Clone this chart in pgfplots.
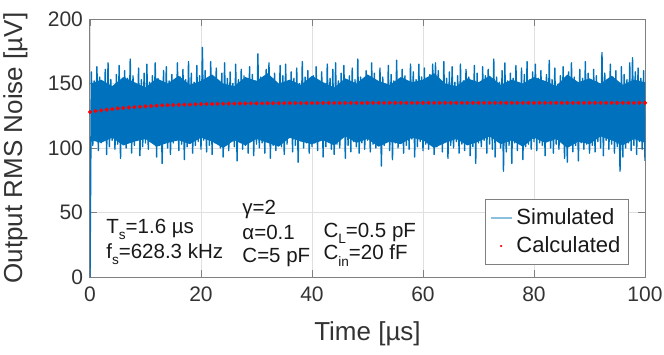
\documentclass[border=0pt]{standalone}
\usepackage{pgfplots}
\pgfplotsset{compat=1.18}
\usepackage{pgfplotstable}
\usepackage{fontspec}
\setmainfont{Liberation Sans}
\definecolor{mblue}{RGB}{0,114,189}
\newcommand{\sub}[1]{\raisebox{-0.32em}{\fontsize{6.8}{7}\selectfont #1}}

\pgfplotstableread[row sep=\\,header=false]{
0\\
159\\102\\152\\107\\163\\98\\155\\104\\150\\109\\161\\95\\166\\101\\153\\106\\148\\99\\157\\103\\164\\92\\151\\105\\160\\100\\154\\108\\169\\96\\156\\102\\149\\106\\162\\94\\153\\101\\158\\104\\
165\\99\\151\\105\\156\\108\\166\\93\\154\\102\\150\\88\\160\\106\\163\\100\\152\\95\\157\\104\\148\\109\\166\\98\\155\\103\\161\\91\\153\\101\\167\\107\\158\\96\\151\\102\\164\\105\\156\\99\\
178\\106\\160\\97\\149\\102\\167\\95\\155\\104\\162\\108\\151\\100\\158\\93\\166\\103\\154\\98\\159\\107\\150\\101\\165\\90\\153\\105\\161\\99\\156\\102\\148\\96\\163\\106\\157\\94\\152\\103\\
173\\100\\155\\104\\151\\96\\161\\107\\166\\92\\153\\102\\158\\98\\149\\105\\164\\101\\156\\95\\165\\103\\152\\108\\159\\97\\154\\102\\162\\89\\150\\106\\167\\100\\155\\104\\160\\96\\153\\101\\
156\\104\\163\\98\\151\\106\\159\\93\\148\\101\\165\\107\\154\\99\\161\\95\\166\\103\\152\\100\\158\\108\\164\\92\\150\\102\\156\\97\\162\\105\\153\\101\\169\\96\\155\\104\\151\\99\\160\\106\\
154\\97\\166\\103\\158\\100\\150\\108\\162\\86\\155\\102\\149\\105\\164\\98\\157\\91\\152\\104\\168\\100\\153\\106\\161\\96\\156\\102\\150\\99\\165\\107\\159\\93\\153\\101\\165\\105\\155\\98\\
162\\103\\151\\99\\157\\106\\165\\95\\166\\101\\160\\104\\148\\97\\167\\108\\154\\92\\159\\102\\163\\100\\151\\105\\156\\96\\165\\103\\152\\98\\161\\107\\155\\94\\149\\101\\164\\88\\158\\104\\
150\\101\\163\\106\\156\\96\\161\\103\\153\\99\\169\\93\\155\\105\\151\\100\\160\\82\\166\\97\\152\\102\\158\\88\\154\\104\\164\\98\\149\\106\\162\\91\\157\\101\\167\\103\\153\\99\\159\\105\\
165\\98\\154\\104\\160\\102\\151\\94\\157\\107\\168\\100\\153\\96\\162\\103\\149\\99\\156\\105\\163\\92\\152\\89\\159\\106\\166\\97\\155\\102\\150\\90\\161\\104\\154\\99\\167\\103\\158\\96\\
153\\102\\161\\97\\156\\105\\150\\100\\174\\94\\158\\106\\152\\99\\165\\103\\155\\96\\160\\101\\149\\82\\163\\93\\157\\100\\153\\104\\166\\98\\170\\102\\159\\95\\162\\105\\154\\99\\160\\90\\
}\noise

% dense core of the simulated trace: upper edge left to right, lower edge right to left
\pgfplotstableread[row sep=\\]{
t v\\
0.25 150\\ 2 153\\ 4 148\\ 6 155\\ 8 151\\ 10 147\\ 12 154\\ 14 150\\ 16 156\\ 18 149\\
20 152\\ 22 157\\ 24 150\\ 26 148\\ 28 155\\ 30 152\\ 32 158\\ 34 150\\ 36 153\\ 38 149\\
40 156\\ 42 151\\ 44 147\\ 46 154\\ 48 150\\ 50 157\\ 52 152\\ 54 149\\ 56 155\\ 58 151\\
60 153\\ 62 158\\ 64 150\\ 66 148\\ 68 154\\ 70 151\\ 72 156\\ 74 149\\ 76 153\\ 78 150\\
80 155\\ 82 152\\ 84 148\\ 86 157\\ 88 151\\ 90 154\\ 92 150\\ 94 156\\ 96 149\\ 98 153\\ 100 151\\
100 104\\ 98 107\\ 96 102\\ 94 106\\ 92 109\\ 90 103\\ 88 105\\ 86 100\\ 84 107\\ 82 104\\
80 108\\ 78 101\\ 76 106\\ 74 103\\ 72 109\\ 70 105\\ 68 102\\ 66 107\\ 64 104\\ 62 100\\
60 106\\ 58 108\\ 56 103\\ 54 105\\ 52 101\\ 50 107\\ 48 104\\ 46 109\\ 44 102\\ 42 106\\
40 103\\ 38 105\\ 36 108\\ 34 101\\ 32 104\\ 30 107\\ 28 102\\ 26 106\\ 24 100\\ 22 105\\
20 108\\ 18 103\\ 16 106\\ 14 104\\ 12 101\\ 10 107\\ 8 105\\ 6 102\\ 4 108\\ 2 104\\ 0.25 106\\
}\core

\pgfplotstableread[row sep=\\]{
t v\\
0 127.9\\ 1 128.6\\ 2 129.2\\ 3 129.7\\ 4 130.2\\ 5 130.7\\ 6 131.0\\ 7 131.4\\ 8 131.7\\ 9 132.0\\
10 132.3\\ 11 132.5\\ 12 132.8\\ 13 133.0\\ 14 133.2\\ 15 133.3\\ 16 133.5\\ 17 133.6\\ 18 133.7\\ 19 133.9\\
20 134.0\\ 21 134.1\\ 22 134.1\\ 23 134.2\\ 24 134.3\\ 25 134.4\\ 26 134.4\\ 27 134.5\\ 28 134.5\\ 29 134.6\\
30 134.6\\ 31 134.6\\ 32 134.7\\ 33 134.7\\ 34 134.7\\ 35 134.8\\ 36 134.8\\ 37 134.8\\ 38 134.8\\ 39 134.8\\
40 134.9\\ 41 134.9\\ 42 134.9\\ 43 134.9\\ 44 134.9\\ 45 134.9\\ 46 134.9\\ 47 134.9\\ 48 134.9\\ 49 134.9\\
50 135.0\\ 51 135.0\\ 52 135.0\\ 53 135.0\\ 54 135.0\\ 55 135.0\\ 56 135.0\\ 57 135.0\\ 58 135.0\\ 59 135.0\\
60 135.0\\ 61 135.0\\ 62 135.0\\ 63 135.0\\ 64 135.0\\ 65 135.0\\ 66 135.0\\ 67 135.0\\ 68 135.0\\ 69 135.0\\
70 135.0\\ 71 135.0\\ 72 135.0\\ 73 135.0\\ 74 135.0\\ 75 135.0\\ 76 135.0\\ 77 135.0\\ 78 135.0\\ 79 135.0\\
80 135.0\\ 81 135.0\\ 82 135.0\\ 83 135.0\\ 84 135.0\\ 85 135.0\\ 86 135.0\\ 87 135.0\\ 88 135.0\\ 89 135.0\\
90 135.0\\ 91 135.0\\ 92 135.0\\ 93 135.0\\ 94 135.0\\ 95 135.0\\ 96 135.0\\ 97 135.0\\ 98 135.0\\ 99 135.0\\
100 135.0\\
}\calc

\begin{document}
\begin{tikzpicture}
\path[use as bounding box] (-45pt,-38.5pt) rectangle (287pt,138.5pt);
\begin{axis}[
  at={(0,0)}, anchor=south west,
  scale only axis, width=277.5pt, height=129pt,
  xmin=0, xmax=100, ymin=0, ymax=200,
  xtick={0,20,...,100}, ytick={0,50,...,200},
  tick align=inside, major tick length=3.5pt,
  axis line style={black!50, line width=0.5pt},
  tick style={black!50, line width=0.4pt},
  grid=major, grid style={black!12, line width=0.4pt},
  /pgf/number format/assume math mode=true,
  ticklabel style={font=\fontsize{10.5}{12}\selectfont, text=black!80},
  xticklabel style={yshift=-1.5pt},
  xlabel={Time [µs]}, ylabel={Output RMS Noise [µV]},
  label style={font=\fontsize{13}{15}\selectfont, text=black!80},
  xlabel style={at={(axis description cs:0.5,-0.248)}, anchor=base},
  ylabel style={at={(axis description cs:-0.1225,0.5)}, anchor=base},
  legend style={at={(0.971,0.0465)}, anchor=south east, draw=black!50, fill=white,
    line width=0.5pt, font=\fontsize{11}{13}\selectfont, text=black!90,
    inner xsep=2pt, inner ysep=2.5pt, row sep=0.5pt,
    column 2/.style={nodes={text width=61pt, inner xsep=1pt}}},
  legend cell align=left,
]
\addplot[draw=none, fill=mblue, forget plot] table[x=t, y=v] {\core} -- cycle;
\addplot[mblue, line width=0.7pt, line join=round,
  legend image code/.code={\draw[mblue!45, line width=0.8pt] (0pt,0pt) -- (10.5pt,0pt);}]
  table[x expr=\coordindex*0.25, y index=0] {\noise};
\addlegendentry{Simulated}
\addplot[only marks, mark=*, mark size=0.8pt, color=red, draw=none,
  legend image code/.code={\fill[red] (5.25pt,0pt) circle (0.6pt);}]
  table[x=t, y=v] {\calc};
\addlegendentry{Calculated}
\begin{scope}[every node/.style={anchor=base west, inner sep=0pt, text=black!90, font=\fontsize{10.25}{12}\selectfont}]
\node at (axis cs:2.88,34.1) {T\sub{s}=1.6 µs};
\node at (axis cs:2.88,14.7) {f\sub{s}=628.3 kHz};
\node at (axis cs:27.4,48.8) {γ=2};
\node at (axis cs:27.4,28.7) {α=0.1};
\node at (axis cs:27.4,10.9) {C=5 pF};
\node at (axis cs:42.0,31.0) {C\sub{L}=0.5 pF};
\node at (axis cs:42.0,13.2) {C\sub{in}=20 fF};
\end{scope}
\end{axis}
\end{tikzpicture}
\end{document}
